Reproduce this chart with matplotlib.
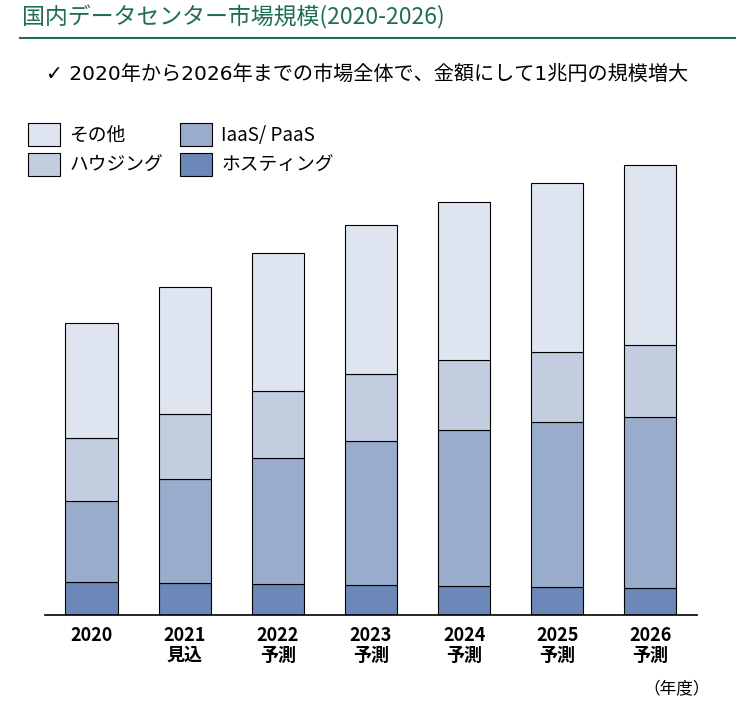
import matplotlib.pyplot as plt
from matplotlib.lines import Line2D
import numpy as np

plt.rcParams['font.family'] = ['Noto Sans CJK JP', 'DejaVu Sans']

years = ['2020', '2021\n見込', '2022\n予測', '2023\n予測', '2024\n予測', '2025\n予測', '2026\n予測']
hosting = [33, 32, 31, 30, 29, 28, 27]
iaas = [81, 104, 126, 144, 156, 165, 171]
housing = [63, 65, 67, 67, 70, 70, 72]
other = [115, 127, 138, 149, 158, 169, 180]

names = ['ホスティング', 'IaaS/ PaaS', 'ハウジング', 'その他']
colors = ['#6b88b8', '#9aaccc', '#c2cde0', '#dfe5f0']

fig = plt.figure(figsize=(7.36, 7.10), dpi=100)
ax = fig.add_axes([0.061, 0.134, 0.886, 0.676])

x = np.arange(len(years))
bottom = np.zeros(len(years))
bars = {}
for name, vals, c in zip(names, [hosting, iaas, housing, other], colors):
    bars[name] = ax.bar(x, vals, 0.56, bottom=bottom, color=c, edgecolor='black', linewidth=0.8)
    bottom += np.array(vals)

ax.set_xlim(-0.5, 6.5)
ax.set_ylim(0, 480)
ax.set_yticks([])
for s in ['top', 'right', 'left']:
    ax.spines[s].set_visible(False)
ax.spines['bottom'].set_linewidth(1.2)
ax.set_xticks(x)
ax.set_xticklabels(years, fontsize=13, fontweight='bold', linespacing=1.05)
ax.tick_params(axis='x', length=0, pad=8)

order = ['その他', 'ハウジング', 'IaaS/ PaaS', 'ホスティング']
fig.legend([bars[n][0] for n in order], order, ncol=2, loc='upper left',
           bbox_to_anchor=(0.015, 0.85), frameon=False, fontsize=13.5,
           handlelength=1.7, handleheight=1.5, handletextpad=0.5,
           columnspacing=0.9, labelspacing=0.35)

fig.text(0.03, 0.975, '国内データセンター市場規模(2020-2026)', fontsize=16.5, color='#1f6e50', va='center')
fig.add_artist(Line2D([0.027, 1.0], [0.947, 0.947], color='#1f6e50', linewidth=1.5))
fig.text(0.063, 0.895, '✓ 2020年から2026年までの市場全体で、金額にして1兆円の規模増大', fontsize=14.5,
         va='center', family=['DejaVu Sans', 'Noto Sans CJK JP'])
fig.text(0.92, 0.028, '（年度）', fontsize=12, ha='center', va='center')

fig.savefig('out.png', dpi=100)
